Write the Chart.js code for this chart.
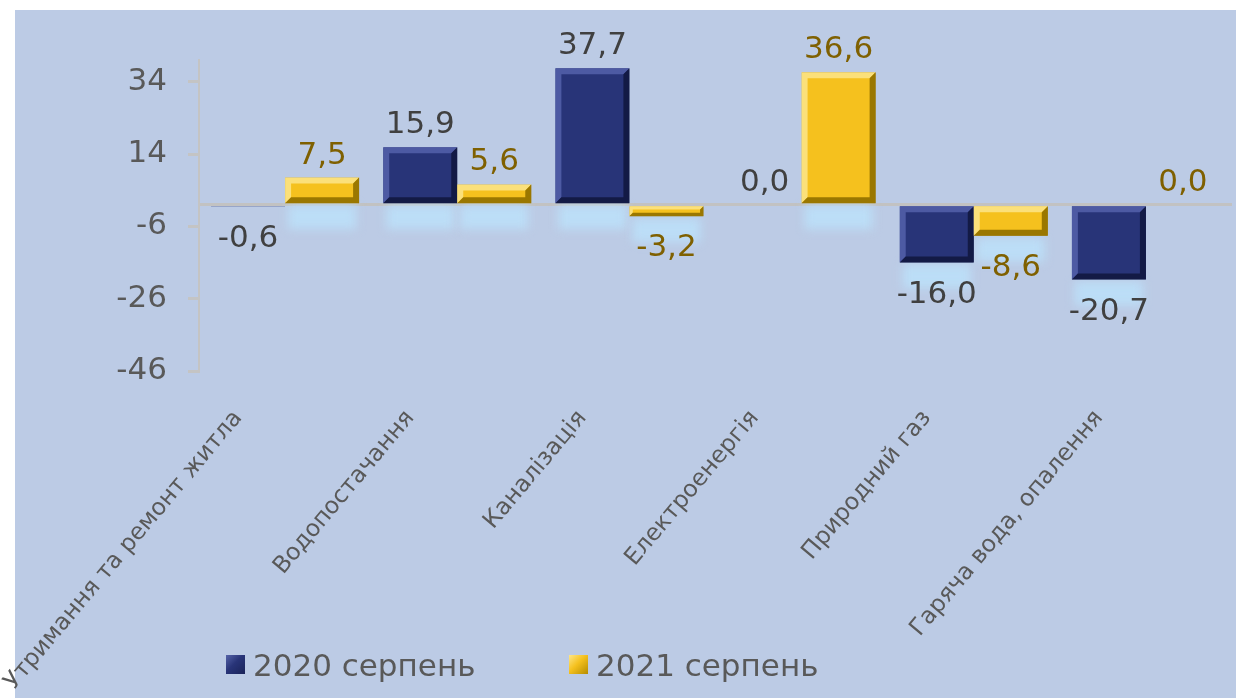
<!DOCTYPE html>
<html>
<head>
<meta charset="utf-8">
<script src="https://cdn.jsdelivr.net/npm/chart.js@4.4.1/dist/chart.umd.min.js"></script>
<style>
  html, body { margin: 0; padding: 0; background: #fff; }
  #wrap { position: relative; width: 1236px; height: 698px; }
  #legend { position: absolute; left: 0; top: 648px; width: 1236px; height: 34px;
    font-family: 'DejaVu Sans', Verdana, sans-serif; font-size: 31px; color: #595959; }
  .item { position: absolute; top: 0; line-height: 34px; white-space: nowrap; }
  .box { position: absolute; top: 7px; width: 19px; height: 19px; box-sizing: border-box; }
  .item span.txt { position: absolute; left: 27px; top: 0; }
</style>
</head>
<body>
<div id="wrap">
  <canvas id="chart"></canvas>
  <div id="legend"></div>
</div>
<script>
// categories and values
const categories = ['Утримання та ремонт житла', 'Водопостачання', 'Каналізація',
  'Електроенергія', 'Природний газ', 'Гаряча вода, опалення'];
const seriesNames = ['2020 серпень', '2021 серпень'];
const aug2020 = [-0.6, 15.9, 37.7, 0.0, -16.0, -20.7];
const aug2021 = [7.5, 5.6, -3.2, 36.6, -8.6, 0.0];
const yTicks = [-46, -26, -6, 14, 34];

const NAVY = '#283478';
const GOLD = '#f5c11e';
const labelColors = ['#404040', '#7f6000'];
const bevelColors = [['#4d5aa3', '#131a45'], ['#fbe07a', '#9a7700']];
const FONT = "'DejaVu Sans', Verdana, sans-serif";

// panel background
const background = {
  id: 'background',
  beforeDraw(chart) {
    const ctx = chart.ctx;
    ctx.save();
    ctx.fillStyle = '#bccbe5';
    ctx.fillRect(15, 10, chart.width - 15, chart.height - 10);
    ctx.restore();
  }
};

// soft light-blue glow under each bar
const glow = {
  id: 'glow',
  beforeDatasetsDraw(chart) {
    const ctx = chart.ctx;
    ctx.save();
    ctx.filter = 'blur(5px)';
    ctx.fillStyle = 'rgba(188,222,248,0.95)';
    chart.data.datasets.forEach((ds, i) => {
      chart.getDatasetMeta(i).data.forEach((el, j) => {
        if (Math.abs(ds.data[j]) < 1) return;
        const bottom = Math.max(el.y, el.base);
        ctx.fillRect(el.x - el.width / 2 + 3, bottom + 2, el.width - 6, 24);
      });
    });
    ctx.restore();
  }
};

// bevel edges + value labels
const barDecor = {
  id: 'barDecor',
  afterDatasetsDraw(chart) {
    const ctx = chart.ctx;
    ctx.save();
    chart.data.datasets.forEach((ds, i) => {
      chart.getDatasetMeta(i).data.forEach((el, j) => {
        const v = ds.data[j];
        const l = el.x - el.width / 2, r = el.x + el.width / 2;
        const t = Math.min(el.y, el.base), b = Math.max(el.y, el.base);
        const h = b - t;
        const bw = Math.min(6, h / 3, el.width / 3);
        if (bw >= 1) {
          ctx.fillStyle = bevelColors[i][0];
          ctx.beginPath();
          ctx.moveTo(l, b); ctx.lineTo(l, t); ctx.lineTo(r, t);
          ctx.lineTo(r - bw, t + bw); ctx.lineTo(l + bw, t + bw); ctx.lineTo(l + bw, b - bw);
          ctx.closePath(); ctx.fill();
          ctx.fillStyle = bevelColors[i][1];
          ctx.beginPath();
          ctx.moveTo(l, b); ctx.lineTo(r, b); ctx.lineTo(r, t);
          ctx.lineTo(r - bw, t + bw); ctx.lineTo(r - bw, b - bw); ctx.lineTo(l + bw, b - bw);
          ctx.closePath(); ctx.fill();
        }
        // value label
        ctx.font = '31px ' + FONT;
        ctx.fillStyle = labelColors[i];
        ctx.textAlign = 'center';
        ctx.textBaseline = 'alphabetic';
        const txt = v.toFixed(1).replace('.', ',');
        if (v >= 0) ctx.fillText(txt, el.x, el.y - 14);
        else ctx.fillText(txt, el.x, el.y + 40);
      });
    });
    ctx.restore();
  }
};

new Chart(document.getElementById('chart'), {
  type: 'bar',
  data: {
    labels: categories,
    datasets: [{
      label: seriesNames[0],
      data: aug2020,
      backgroundColor: NAVY,
      borderColor: '#1f2a66',
      borderWidth: 1,
      categoryPercentage: 0.86,
      barPercentage: 1.0
    }, {
      label: seriesNames[1],
      data: aug2021,
      backgroundColor: GOLD,
      borderColor: '#a07d00',
      borderWidth: 1,
      categoryPercentage: 0.86,
      barPercentage: 1.0
    }]
  },
  options: {
    responsive: true,
    maintainAspectRatio: false,
    animation: false,
    layout: { padding: { top: 60, right: 4, left: 0, bottom: 0 } },
    plugins: {
      legend: { display: false },
      tooltip: { enabled: false }
    },
    scales: {
      x: {
        grid: { display: false },
        border: { display: false },
        ticks: {
          autoSkip: false,
          maxRotation: 50,
          minRotation: 50,
          padding: 26,
          labelOffset: -47,
          color: '#595959',
          font: { family: FONT, size: 23.5 }
        },
        afterFit: scale => { scale.height = 327; }
      },
      y: {
        min: -46,
        max: 40,
        afterBuildTicks: scale => {
          scale.ticks = yTicks.concat([0]).sort((a, b) => a - b).map(v => ({ value: v }));
        },
        afterFit: scale => { scale.width = 199; },
        border: { display: true, color: '#c4c4c4', width: 2 },
        grid: {
          drawOnChartArea: true,
          tickLength: 11,
          lineWidth: 3,
          color: ctx => ctx.tick && ctx.tick.value === 0 ? '#c2c2c2' : 'transparent',
          tickColor: ctx => ctx.tick && ctx.tick.value === 0 ? 'transparent' : '#c4c4c4'
        },
        ticks: {
          padding: 21,
          color: '#595959',
          font: { family: FONT, size: 31 },
          callback: v => v === 0 ? '' : v
        }
      }
    }
  },
  plugins: [background, glow, barDecor]
});

// legend
const legendPos = [226, 569];
const legendColors = [
  'linear-gradient(135deg, #5563a8 0%, #283478 45%, #1a2358 100%)',
  'linear-gradient(135deg, #fde68a 0%, #f5c11e 45%, #b58c00 100%)'
];
const legend = document.getElementById('legend');
seriesNames.forEach((name, i) => {
  const item = document.createElement('div');
  item.className = 'item';
  item.style.left = legendPos[i] + 'px';
  item.innerHTML = '<div class="box" style="background:' + legendColors[i] + '"></div>' +
    '<span class="txt">' + name + '</span>';
  legend.appendChild(item);
});
</script>
</body>
</html>
